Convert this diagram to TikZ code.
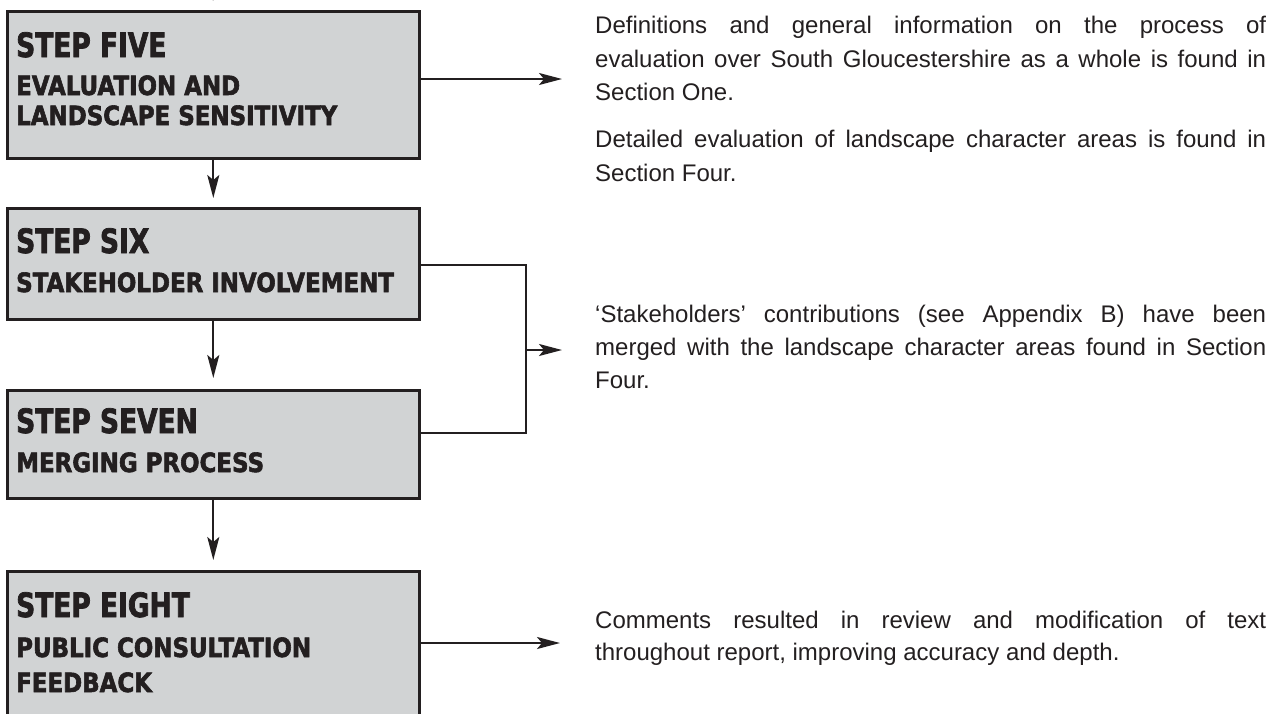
\documentclass[tikz,border=0pt]{standalone}
\usepackage{fontspec}
\usetikzlibrary{arrows.meta}
\setmainfont{Liberation Sans}
\newfontfamily\titlefont{DejaVu Sans}[FakeStretch=0.79,FakeBold=2.2]
\newfontfamily\subfont{DejaVu Sans}[FakeStretch=0.865,FakeBold=2.2]
\newfontfamily\bodyfont{Liberation Sans}
\definecolor{ink}{RGB}{35,31,32}
\definecolor{boxgray}{RGB}{209,211,212}
\tikzset{
  stepbox/.style={draw=ink, fill=boxgray, line width=2.6pt, inner sep=0pt, anchor=north west},
  conn/.style={draw=ink, line width=2pt},
  arr/.style={conn, -{Stealth[length=23pt,width=12pt,inset=5pt]}},
  ttl/.style={anchor=base west, inner sep=0pt, text=ink, font=\titlefont\bfseries\fontsize{33.5}{33}\selectfont},
  sub/.style={anchor=base west, inner sep=0pt, text=ink, font=\subfont\bfseries\fontsize{26.5}{26}\selectfont},
  body/.style={anchor=base west, inner sep=0pt, text=ink, font=\bodyfont\fontsize{24}{33}\selectfont},
}
\newcommand{\fl}[1]{\makebox[671pt][s]{#1}}
\begin{document}
\begin{tikzpicture}[x=1pt,y=-1pt]
\clip (0,0) rectangle (1277,713);
\fill[white] (0,0) rectangle (1277,713);
% boxes
\node[stepbox, minimum width=412pt, minimum height=147pt] (s5) at (6,10) {};
\node[stepbox, minimum width=412pt, minimum height=111pt] (s6) at (6,207) {};
\node[stepbox, minimum width=412pt, minimum height=108pt] (s7) at (6,389) {};
\node[stepbox, minimum width=412pt, minimum height=200pt] (s8) at (6,570) {};
% box texts
\node[ttl] (t5) at (16,57) {STEP FIVE};
\node[sub] (t5a) at (16,95) {EVALUATION AND};
\node[sub] (t5b) at (16,125) {LANDSCAPE SENSITIVITY};
\node[ttl] (t6) at (16,253) {STEP SIX};
\node[sub] (t6a) at (16,292) {STAKEHOLDER INVOLVEMENT};
\node[ttl] (t7) at (16,433) {STEP SEVEN};
\node[sub] (t7a) at (16,472) {MERGING PROCESS};
\node[ttl] (t8) at (16,617) {STEP EIGHT};
\node[sub] (t8a) at (16,657) {PUBLIC CONSULTATION};
\node[sub] (t8b) at (16,692) {FEEDBACK};
% vertical connectors
\coordinate (above) at (212,-40);
\draw[arr, shorten >=9pt] (above) -- (s5.north);
\draw[arr, shorten >=9pt] (s5.south) -- (s6.north);
\draw[arr, shorten >=11pt] (s6.south) -- (s7.north);
\draw[arr, shorten >=10pt] (s7.south) -- (s8.north);
% right connectors
\coordinate (e1) at (562,79);
\draw[arr] (s5.east |- e1) -- (e1);
\coordinate (j1) at (526,265);
\coordinate (j2) at (526,433);
\coordinate (jm) at (526,350);
\coordinate (e2) at (562,350);
\draw[conn] (s6.east |- j1) -- (j1) -- (j2) -- (s7.east |- j2);
\draw[arr] (jm) -- (e2);
\coordinate (e3) at (560,643);
\draw[arr] (s8.east |- e3) -- (e3);
% right texts
\node[body] (p1a) at (595,33) {\fl{Definitions and general information on the process of}};
\node[body] (p1b) at (595,67) {\fl{evaluation over South Gloucestershire as a whole is found in}};
\node[body] (p1c) at (595,100) {Section One.};
\node[body] (p2a) at (595,147) {\fl{Detailed evaluation of landscape character areas is found in}};
\node[body] (p2b) at (595,181) {Section Four.};
\node[body] (p3a) at (595,322) {\fl{‘Stakeholders’ contributions (see Appendix B) have been}};
\node[body] (p3b) at (595,355) {\fl{merged with the landscape character areas found in Section}};
\node[body] (p3c) at (595,388) {Four.};
\node[body] (p4a) at (595,628) {\fl{Comments resulted in review and modification of text}};
\node[body] (p4b) at (595,660) {throughout report, improving accuracy and depth.};
\end{tikzpicture}
\end{document}
